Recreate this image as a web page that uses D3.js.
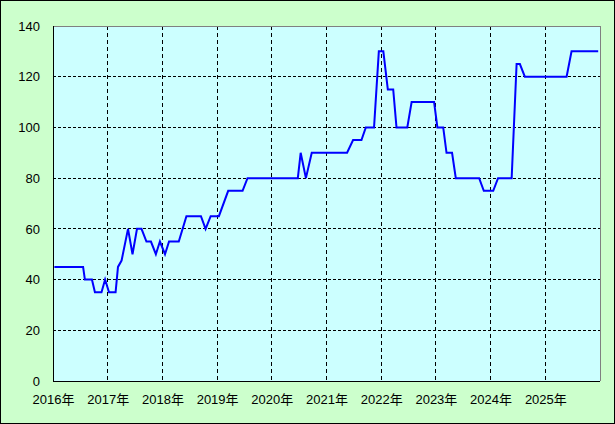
<!DOCTYPE html>
<html><head><meta charset="utf-8">
<script src="https://cdn.jsdelivr.net/npm/d3@7"></script>
<style>body{margin:0;padding:0;background:#fff}svg{display:block}</style>
</head><body>
<svg id="chart" width="615" height="424"></svg>
<script>
const dates = ["2016-01-10","2016-07-20","2016-08-01","2016-09-17","2016-10-07","2016-11-20","2016-12-14","2017-01-09","2017-02-22","2017-03-10","2017-04-03","2017-05-16","2017-06-15","2017-07-15","2017-08-14","2017-09-16","2017-10-16","2017-11-18","2017-12-15","2018-01-18","2018-02-14","2018-04-20","2018-06-10","2018-09-15","2018-10-16","2018-11-19","2019-01-13","2019-03-16","2019-06-20","2019-07-23","2020-06-23","2020-07-12","2020-08-16","2020-09-24","2021-05-18","2021-06-27","2021-08-22","2021-09-20","2021-11-14","2021-12-16","2022-01-15","2022-02-14","2022-03-22","2022-04-13","2022-06-24","2022-07-23","2022-12-20","2023-01-11","2023-02-19","2023-03-13","2023-04-19","2023-05-14","2023-10-17","2023-11-17","2024-01-19","2024-02-20","2024-05-21","2024-06-23","2024-07-15","2024-08-17","2025-05-23","2025-06-25","2025-12-20"];
const values = [45,45,40,40,35,35,40,35,35,45,47.5,60,50,60,60,55,55,50,55,50,55,55,65,65,60,65,65,75,75,80,80,90,80,90,90,95,95,100,100,130,130,115,115,100,100,110,110,100,100,90,90,80,80,75,75,80,80,125,125,120,120,130,130];
const yTicks = [0,20,40,60,80,100,120,140];
const xTickYears = [2016,2017,2018,2019,2020,2021,2022,2023,2024,2025];

const parse = d3.timeParse("%Y-%m-%d");
const data = dates.map((d,i)=>({date: parse(d), value: values[i]}));

const W = 615, H = 424;
const L = 53, R = 600, T = 26, B = 381;
const svg = d3.select("#chart");

svg.append("rect").attr("x",0.5).attr("y",0.5).attr("width",W-1).attr("height",H-1)
  .attr("fill","#ccffcc").attr("stroke","#000").attr("stroke-width",1);
svg.append("rect").attr("x",L).attr("y",T).attr("width",R-L).attr("height",B-T).attr("fill","#ccffff");

const x = d3.scaleTime().domain([new Date(2016,0,1), new Date(2026,0,1)]).range([L,R]);
const y = d3.scaleLinear().domain([0,140]).range([B,T]);

// grid
const g = svg.append("g").attr("shape-rendering","crispEdges");
g.selectAll(".hg").data(yTicks.filter(v=>v>0 && v<140)).join("line")
  .attr("x1",L).attr("x2",R).attr("y1",d=>y(d)).attr("y2",d=>y(d))
  .attr("stroke","#000").attr("stroke-dasharray","3,2");
g.selectAll(".vg").data(xTickYears.filter(v=>v>2016)).join("line")
  .attr("x1",d=>x(new Date(d,0,1))).attr("x2",d=>x(new Date(d,0,1))).attr("y1",T).attr("y2",B)
  .attr("stroke","#000").attr("stroke-dasharray","4,3");

// borders
g.append("line").attr("x1",L).attr("x2",R).attr("y1",T).attr("y2",T).attr("stroke","#808080");
g.append("line").attr("x1",R).attr("x2",R).attr("y1",T).attr("y2",B).attr("stroke","#808080");
g.append("line").attr("x1",L).attr("x2",L).attr("y1",T).attr("y2",B).attr("stroke","#000");
g.append("line").attr("x1",L).attr("x2",R).attr("y1",B).attr("y2",B).attr("stroke","#000");

// line
const line = d3.line().x(d=>x(d.date)).y(d=>y(d.value));
svg.append("path").datum(data).attr("d",line).attr("fill","none")
  .attr("stroke","#0000ff").attr("stroke-width",2).attr("stroke-linejoin","miter");

const font = "'Liberation Sans','Noto Sans CJK JP',sans-serif";
// axes
const ya = svg.append("g").attr("transform",`translate(${L},0)`)
  .call(d3.axisLeft(y).tickValues(yTicks).tickSize(0).tickPadding(13));
ya.select(".domain").remove();
ya.selectAll("text").attr("font-family",font).attr("font-size",13).attr("fill","#000");

const xa = svg.append("g").attr("transform",`translate(0,${B})`)
  .call(d3.axisBottom(x).tickValues(xTickYears.map(v=>new Date(v,0,1))).tickSize(0).tickPadding(14)
    .tickFormat(d=>d.getFullYear()+"年"));
xa.select(".domain").remove();
xa.selectAll("text").attr("font-family",font).attr("font-size",13).attr("fill","#000");
</script>
</body></html>
